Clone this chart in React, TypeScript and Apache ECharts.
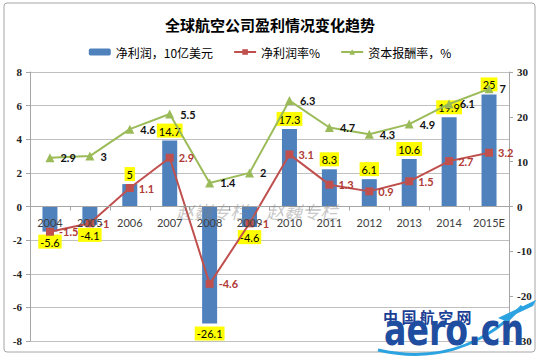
import React, { useEffect, useRef } from "react";
import * as echarts from "echarts";

const categories = ["2004", "2005", "2006", "2007", "2008", "2009", "2010", "2011", "2012", "2013", "2014", "2015E"];
const netProfit = [-5.6, -4.1, 5, 14.7, -26.1, -4.6, 17.3, 8.3, 6.1, 10.6, 19.9, 25];
const profitMargin = [-1.5, -1, 1.1, 2.9, -4.6, -1, 3.1, 1.3, 0.9, 1.5, 2.7, 3.2];
const roic = [2.9, 3, 4.6, 5.5, 1.4, 2, 6.3, 4.7, 4.3, 4.9, 6.1, 7];

const seriesNames = ["净利润，10亿美元", "净利润率%", "资本报酬率，%"];
const titleText = "全球航空公司盈利情况变化趋势";

const BLUE = "#4F81BD";
const RED = "#C0504D";
const GREEN = "#9BBB59";
const NUM_FONT = "Lato, 'Noto Sans CJK SC', sans-serif";

export default function App() {
  const ref = useRef<HTMLDivElement>(null);
  useEffect(() => {
    if (!ref.current) return;
    const chart = echarts.init(ref.current, undefined, { renderer: "svg" });
    chart.setOption({
      animation: false,
      backgroundColor: "#fff",
      title: {
        text: titleText,
        left: "center",
        top: 12,
        textStyle: { fontSize: 15, fontWeight: "bold", color: "#000", fontFamily: "'Noto Sans CJK SC', sans-serif" },
      },
      legend: {
        top: 41,
        left: "center",
        itemGap: 20,
        itemWidth: 22,
        itemHeight: 7,
        textStyle: { fontSize: 12, color: "#000", fontFamily: "'Noto Sans CJK SC', sans-serif" },
        data: seriesNames,
      },
      grid: { left: 30, right: 31, top: 72, bottom: 17 },
      xAxis: {
        type: "category",
        data: categories,
        position: "bottom",
        offset: -134.5,
        z: 5,
        axisLine: { onZero: false, lineStyle: { color: "#A6A6A6" } },
        axisTick: { show: true, length: 4, lineStyle: { color: "#A6A6A6" } },
        axisLabel: { interval: 0, fontSize: 11, color: "#404040", margin: 10, fontFamily: NUM_FONT },
      },
      yAxis: [
        {
          type: "value",
          min: -8,
          max: 8,
          interval: 2,
          axisLine: { show: true, lineStyle: { color: "#A6A6A6" } },
          axisTick: { show: true, length: 4, lineStyle: { color: "#A6A6A6" } },
          axisLabel: { fontSize: 11, color: "#222", margin: 8, fontFamily: "'Liberation Serif', serif", fontWeight: "bold" },
          splitLine: { show: true, lineStyle: { color: "#C0C0C0" } },
        },
        {
          type: "value",
          min: -30,
          max: 30,
          interval: 10,
          axisLine: { show: true, lineStyle: { color: "#A6A6A6" } },
          axisTick: { show: true, length: 4, lineStyle: { color: "#A6A6A6" } },
          axisLabel: { fontSize: 11, color: "#222", margin: 8, fontFamily: "'Liberation Serif', serif", fontWeight: "bold" },
          splitLine: { show: false },
        },
      ],
      series: [
        {
          name: seriesNames[0],
          type: "bar",
          yAxisIndex: 1,
          barWidth: 15,
          itemStyle: { color: BLUE },
          z: 2,
          data: netProfit.map((v) => ({
            value: v,
            label: { position: v >= 0 ? "top" : "bottom" },
          })),
          label: {
            show: true,
            distance: 3,
            fontSize: 11,
            color: "#000",
            backgroundColor: "#FFFF00",
            padding: [2, 2, 1, 2],
            fontFamily: NUM_FONT,
          },
        },
        {
          name: seriesNames[1],
          type: "line",
          yAxisIndex: 0,
          data: profitMargin,
          symbol: "rect",
          symbolSize: 8,
          lineStyle: { color: RED, width: 2 },
          itemStyle: { color: RED },
          z: 3,
          label: {
            show: true,
            position: "right",
            distance: 5,
            fontSize: 11,
            fontWeight: "bold",
            color: "#B03A36",
            fontFamily: NUM_FONT,
          },
        },
        {
          name: seriesNames[2],
          type: "line",
          yAxisIndex: 0,
          data: roic,
          symbol: "triangle",
          symbolSize: 9,
          lineStyle: { color: GREEN, width: 2 },
          itemStyle: { color: GREEN },
          z: 3,
          label: {
            show: true,
            position: "right",
            distance: 6,
            fontSize: 11,
            fontWeight: "bold",
            color: "#111",
            fontFamily: NUM_FONT,
          },
        },
      ],
      graphic: [
        {
          type: "rect",
          z: -1,
          shape: { x: 4, y: 3, width: 531, height: 349, r: 3 },
          style: { fill: "none", stroke: "#A6A6A6", lineWidth: 1 },
        },
        {
          type: "text",
          z: 50,
          x: 176,
          y: 202,
          style: {
            text: "赵巍专栏，赵巍专栏",
            fontSize: 18,
            fontStyle: "italic",
            fontFamily: "'Noto Sans CJK SC', sans-serif",
            fill: "rgba(130,130,130,0.45)",
          },
        },
        {
          type: "bezierCurve",
          z: 60,
          shape: { x1: 378, y1: 350, cpx1: 430, cpy1: 362, cpx2: 480, cpy2: 350, x2: 522, y2: 306 },
          style: { stroke: "#2BA3E0", lineWidth: 3, fill: "none" },
        },
        {
          type: "polygon",
          z: 60,
          shape: { points: [[498, 318], [536, 300], [533, 306], [516, 314], [508, 322]] },
          style: { fill: "#2BA3E0" },
        },
        {
          type: "text",
          z: 61,
          x: 383,
          y: 309,
          style: {
            text: "中 国 航 空 网",
            fontSize: 15,
            fontWeight: "bold",
            fontFamily: "'Noto Sans CJK SC', sans-serif",
            fill: "#1B3F94",
          },
        },
        {
          type: "text",
          z: 61,
          x: 384,
          y: 352,
          scaleY: 1.25,
          scaleX: 0.95,
          style: {
            text: "aero.cn",
            fontSize: 35,
            fontWeight: "bold",
            fontFamily: "'DejaVu Sans', sans-serif",
            fill: "#1F4EA0",
            verticalAlign: "bottom",
          },
        },
      ],
    });
    return () => chart.dispose();
  }, []);
  return (
    <div style={{ position: "fixed", left: 0, top: 0, width: 540, height: 358, background: "#fff" }}>
      <div ref={ref} style={{ width: 540, height: 358 }} />
    </div>
  );
}
